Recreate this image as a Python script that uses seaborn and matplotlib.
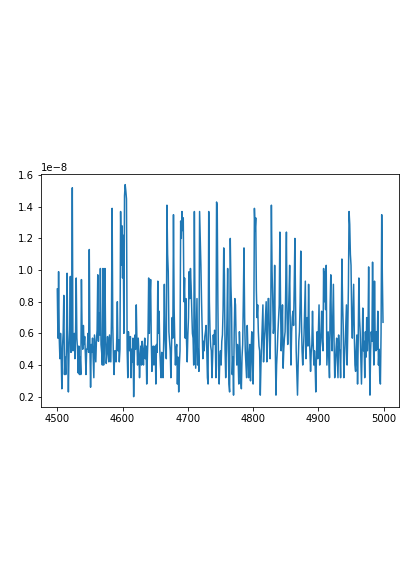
import numpy as np
import pandas as pd
import matplotlib
matplotlib.use("Agg")
import matplotlib.pyplot as plt
import seaborn as sns

# time index (x axis)
start_step = 4500
n_steps = 500

# series values in units of 1e-8
values_e8 = [
    0.88, 0.57, 0.99, 0.57, 0.44, 0.60, 0.45, 0.25, 0.52, 0.60,
    0.84, 0.34, 0.45, 0.34, 0.51, 0.98, 0.55, 0.23, 0.50, 0.62,
    0.96, 0.48, 0.60, 1.52, 0.49, 0.59, 0.60, 0.44, 0.60, 0.95,
    0.57, 0.50, 0.35, 0.52, 0.34, 0.45, 0.34, 0.94, 0.61, 0.50,
    0.65, 0.53, 0.58, 0.47, 0.34, 0.50, 0.50, 0.60, 0.48, 1.13,
    0.52, 0.26, 0.53, 0.48, 0.57, 0.45, 0.32, 0.59, 0.50, 0.42,
    0.56, 0.62, 0.97, 0.55, 0.73, 0.59, 1.01, 0.53, 0.48, 0.40,
    1.01, 0.40, 0.55, 1.01, 0.57, 0.41, 0.47, 0.58, 0.49, 0.42,
    0.59, 0.50, 0.42, 0.70, 1.39, 0.65, 0.45, 0.34, 0.49, 0.49,
    0.42, 0.55, 0.80, 0.49, 0.56, 0.42, 0.50, 1.37, 1.03, 1.28,
    0.95, 1.22, 0.60, 1.47, 1.54, 1.50, 1.45, 0.50, 0.32, 0.61,
    0.52, 0.49, 0.58, 0.32, 0.50, 0.42, 0.57, 0.20, 0.45, 0.59,
    0.50, 0.78, 0.55, 0.40, 0.57, 0.48, 0.32, 0.44, 0.52, 0.40,
    0.55, 0.49, 0.40, 0.50, 0.57, 0.44, 0.52, 0.28, 0.45, 0.59,
    0.95, 0.60, 0.82, 0.94, 0.55, 0.36, 0.49, 0.52, 0.40, 0.44,
    0.52, 0.28, 0.53, 0.48, 0.93, 0.60, 0.74, 0.50, 0.40, 0.32,
    0.48, 0.44, 0.32, 0.55, 0.91, 0.60, 0.49, 0.44, 1.41, 1.10,
    0.99, 0.61, 0.55, 0.49, 0.32, 0.50, 0.70, 0.57, 1.35, 0.76,
    0.55, 0.40, 0.50, 0.53, 0.28, 0.45, 0.23, 0.40, 0.49, 1.31,
    1.20, 1.37, 1.25, 1.33, 0.80, 0.95, 0.57, 0.82, 0.55, 0.42,
    0.59, 0.70, 0.99, 0.82, 1.01, 0.90, 0.76, 0.60, 0.57, 0.40,
    1.37, 0.70, 0.38, 0.60, 0.82, 0.40, 0.50, 0.36, 1.37, 1.20,
    1.03, 0.80, 0.61, 0.44, 0.55, 0.49, 0.58, 0.61, 0.65, 0.50,
    0.32, 0.28, 1.37, 0.80, 0.61, 0.52, 0.49, 0.32, 0.45, 0.59,
    0.53, 0.62, 0.59, 0.32, 1.43, 1.41, 0.80, 0.40, 0.28, 0.45,
    0.49, 0.40, 0.55, 0.59, 0.75, 1.14, 0.97, 0.50, 0.32, 0.49,
    0.70, 1.01, 0.50, 0.28, 0.23, 1.20, 0.90, 0.76, 0.34, 0.45,
    0.21, 0.60, 0.82, 0.78, 0.55, 0.40, 0.53, 0.45, 0.28, 0.61,
    0.50, 0.32, 0.25, 0.45, 0.53, 0.80, 1.14, 0.70, 0.49, 0.40,
    0.32, 0.65, 0.50, 0.32, 0.45, 0.53, 0.30, 0.50, 0.61, 0.40,
    0.28, 0.61, 1.39, 1.25, 1.33, 0.87, 0.70, 0.78, 0.61, 0.52,
    0.49, 0.21, 0.40, 0.53, 0.65, 0.78, 0.42, 0.55, 0.61, 0.70,
    0.80, 0.42, 0.60, 0.82, 0.82, 0.55, 0.44, 0.68, 1.41, 1.00,
    0.82, 0.60, 0.65, 1.03, 0.50, 0.21, 0.40, 0.49, 0.61, 0.70,
    0.78, 1.24, 0.80, 0.49, 0.60, 0.78, 0.38, 0.50, 0.57, 0.61,
    0.90, 1.24, 0.70, 0.53, 0.68, 0.85, 1.03, 0.60, 0.40, 0.61,
    0.70, 0.74, 0.65, 0.90, 1.20, 0.80, 0.49, 0.35, 0.21, 0.40,
    0.55, 0.61, 0.80, 1.12, 0.70, 0.49, 0.40, 0.50, 0.59, 0.75,
    0.93, 0.44, 0.60, 0.70, 0.52, 0.91, 0.60, 0.49, 0.36, 0.48,
    0.53, 0.74, 0.55, 0.40, 0.49, 0.40, 0.23, 0.45, 0.61, 0.44,
    0.60, 0.78, 0.40, 0.52, 0.61, 0.74, 0.55, 0.49, 1.01, 0.80,
    0.99, 0.75, 1.03, 0.40, 0.50, 0.61, 0.45, 0.32, 0.78, 0.97,
    0.60, 0.49, 0.70, 0.91, 0.55, 0.32, 0.40, 0.50, 0.57, 0.45,
    0.32, 0.59, 0.50, 0.49, 0.32, 0.60, 1.07, 0.80, 0.65, 0.32,
    0.45, 0.53, 0.65, 0.78, 0.40, 0.61, 0.90, 1.37, 1.29, 1.10,
    1.03, 0.70, 0.57, 0.75, 0.91, 0.60, 0.40, 0.36, 0.50, 0.59,
    0.28, 0.55, 0.95, 0.70, 0.61, 0.45, 0.28, 0.50, 0.76, 0.49,
    0.55, 0.32, 0.61, 0.45, 0.70, 0.49, 0.60, 1.02, 0.50, 0.21,
    0.49, 0.61, 0.55, 1.05, 0.60, 0.40, 0.93, 0.55, 0.49, 0.61,
    0.50, 0.74, 0.40, 0.50, 0.32, 0.28, 0.60, 1.35, 0.95, 0.67,
]
value_scale = 1e-8

steps = np.arange(start_step, start_step + n_steps)
df = pd.DataFrame({"step": steps, "value": np.array(values_e8) * value_scale})

DPI = 72
fig = plt.figure(figsize=(415 / DPI, 588 / DPI), dpi=DPI)
ax = fig.add_axes([41 / 415, 1 - 407.3 / 588, 358.3 / 415, 233.3 / 588])

sns.lineplot(data=df, x="step", y="value", ax=ax, color="#1f77b4", linewidth=1.5)
ax.set_xlabel("")
ax.set_ylabel("")
ax.set_xticks([4500, 4600, 4700, 4800, 4900, 5000])

fig.savefig("out.png", dpi=DPI)
